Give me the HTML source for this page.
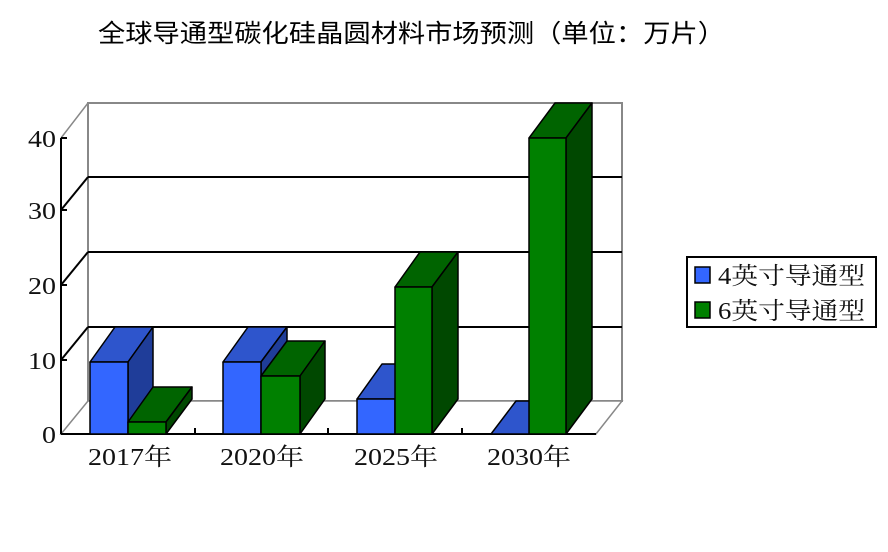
<!DOCTYPE html>
<html><head><meta charset="utf-8"><style>
html,body{margin:0;padding:0;background:#fff;}
svg{display:block;}
.t{font-family:"Liberation Serif","Noto Serif CJK SC",serif;font-size:24px;fill:#111;}
.h{font-family:"Liberation Sans","Noto Sans CJK SC",sans-serif;font-size:25px;fill:#000;}
</style></head><body>
<svg width="888" height="552" viewBox="0 0 888 552" xmlns="http://www.w3.org/2000/svg">
<text class="h" x="98" y="42" textLength="627" lengthAdjust="spacingAndGlyphs">全球导通型碳化硅晶圆材料市场预测（单位：万片）</text>
<rect x="88" y="103" width="534" height="298" fill="#fff" stroke="#888" stroke-width="2"/>
<polygon points="61,434 88,401 622,401 596,434" fill="#fff" stroke="#888" stroke-width="1.5"/>
<line x1="61" y1="138" x2="88" y2="103" stroke="#888" stroke-width="1.5"/>
<g stroke="#000" stroke-width="2">
<line x1="88" y1="327" x2="622" y2="327"/>
<line x1="88" y1="252" x2="622" y2="252"/>
<line x1="88" y1="177" x2="622" y2="177"/>
<line x1="61" y1="360" x2="88" y2="327"/>
<line x1="61" y1="285" x2="88" y2="252"/>
<line x1="61" y1="210" x2="88" y2="177"/>
</g>
<g stroke="#000" stroke-width="2">
<line x1="61" y1="138" x2="61" y2="434"/>
<line x1="61" y1="434" x2="596" y2="434"/>
<line x1="61" y1="434" x2="67" y2="434"/>
<line x1="61" y1="360" x2="67" y2="360"/>
<line x1="61" y1="285" x2="67" y2="285"/>
<line x1="61" y1="210" x2="67" y2="210"/>
<line x1="61" y1="138" x2="67" y2="138"/>
<line x1="195" y1="434" x2="195" y2="428"/>
<line x1="328" y1="434" x2="328" y2="428"/>
<line x1="462" y1="434" x2="462" y2="428"/>
</g>
<g class="t">
<text x="42" y="443" textLength="14" lengthAdjust="spacingAndGlyphs">0</text>
<text x="28" y="369" textLength="28" lengthAdjust="spacingAndGlyphs">10</text>
<text x="28" y="294" textLength="28" lengthAdjust="spacingAndGlyphs">20</text>
<text x="28" y="219" textLength="28" lengthAdjust="spacingAndGlyphs">30</text>
<text x="28" y="147" textLength="28" lengthAdjust="spacingAndGlyphs">40</text>
</g>
<g class="t">
<text x="88" y="465" textLength="84" lengthAdjust="spacingAndGlyphs">2017年</text>
<text x="220" y="465" textLength="84" lengthAdjust="spacingAndGlyphs">2020年</text>
<text x="354" y="465" textLength="84" lengthAdjust="spacingAndGlyphs">2025年</text>
<text x="487" y="465" textLength="84" lengthAdjust="spacingAndGlyphs">2030年</text>
</g>
<g stroke="#000" stroke-width="1.5" stroke-linejoin="round">
<polygon points="90,362 115,327 153,327 128,362" fill="#2e55cc"/>
<polygon points="128,362 153,327 153,399 128,434" fill="#1f3d99"/>
<rect x="90" y="362" width="38" height="72" fill="#3366ff"/>
<polygon points="128,422 153,387 192,387 166,422" fill="#006400"/>
<polygon points="166,422 192,387 192,399 166,434" fill="#004800"/>
<rect x="128" y="422" width="38" height="12" fill="#008000"/>
<polygon points="223,362 248,327 287,327 261,362" fill="#2e55cc"/>
<polygon points="261,362 287,327 287,399 261,434" fill="#1f3d99"/>
<rect x="223" y="362" width="38" height="72" fill="#3366ff"/>
<polygon points="261,376 287,341 325,341 300,376" fill="#006400"/>
<polygon points="300,376 325,341 325,399 300,434" fill="#004800"/>
<rect x="261" y="376" width="39" height="58" fill="#008000"/>
<polygon points="357,399 382,364 420,364 395,399" fill="#2e55cc"/>
<rect x="357" y="399" width="38" height="35" fill="#3366ff"/>
<polygon points="395,287 420,252 458,252 432,287" fill="#006400"/>
<polygon points="432,287 458,252 458,399 432,434" fill="#004800"/>
<rect x="395" y="287" width="37" height="147" fill="#008000"/>
<polygon points="491,434 516,401 554,401 529,434" fill="#2e55cc"/>
<polygon points="529,138 555,103 592,103 566,138" fill="#006400"/>
<polygon points="566,138 592,103 592,399 566,434" fill="#004800"/>
<rect x="529" y="138" width="37" height="296" fill="#008000"/>
</g>
<rect x="687" y="257" width="189" height="70" fill="#fff" stroke="#000" stroke-width="2"/>
<rect x="695" y="267" width="15" height="16" fill="#3366ff" stroke="#000" stroke-width="1.5"/>
<rect x="695" y="302" width="15" height="16" fill="#008000" stroke="#000" stroke-width="1.5"/>
<text class="t" x="718" y="284" textLength="147" lengthAdjust="spacingAndGlyphs">4英寸导通型</text>
<text class="t" x="718" y="319" textLength="147" lengthAdjust="spacingAndGlyphs">6英寸导通型</text>
</svg>
</body></html>
